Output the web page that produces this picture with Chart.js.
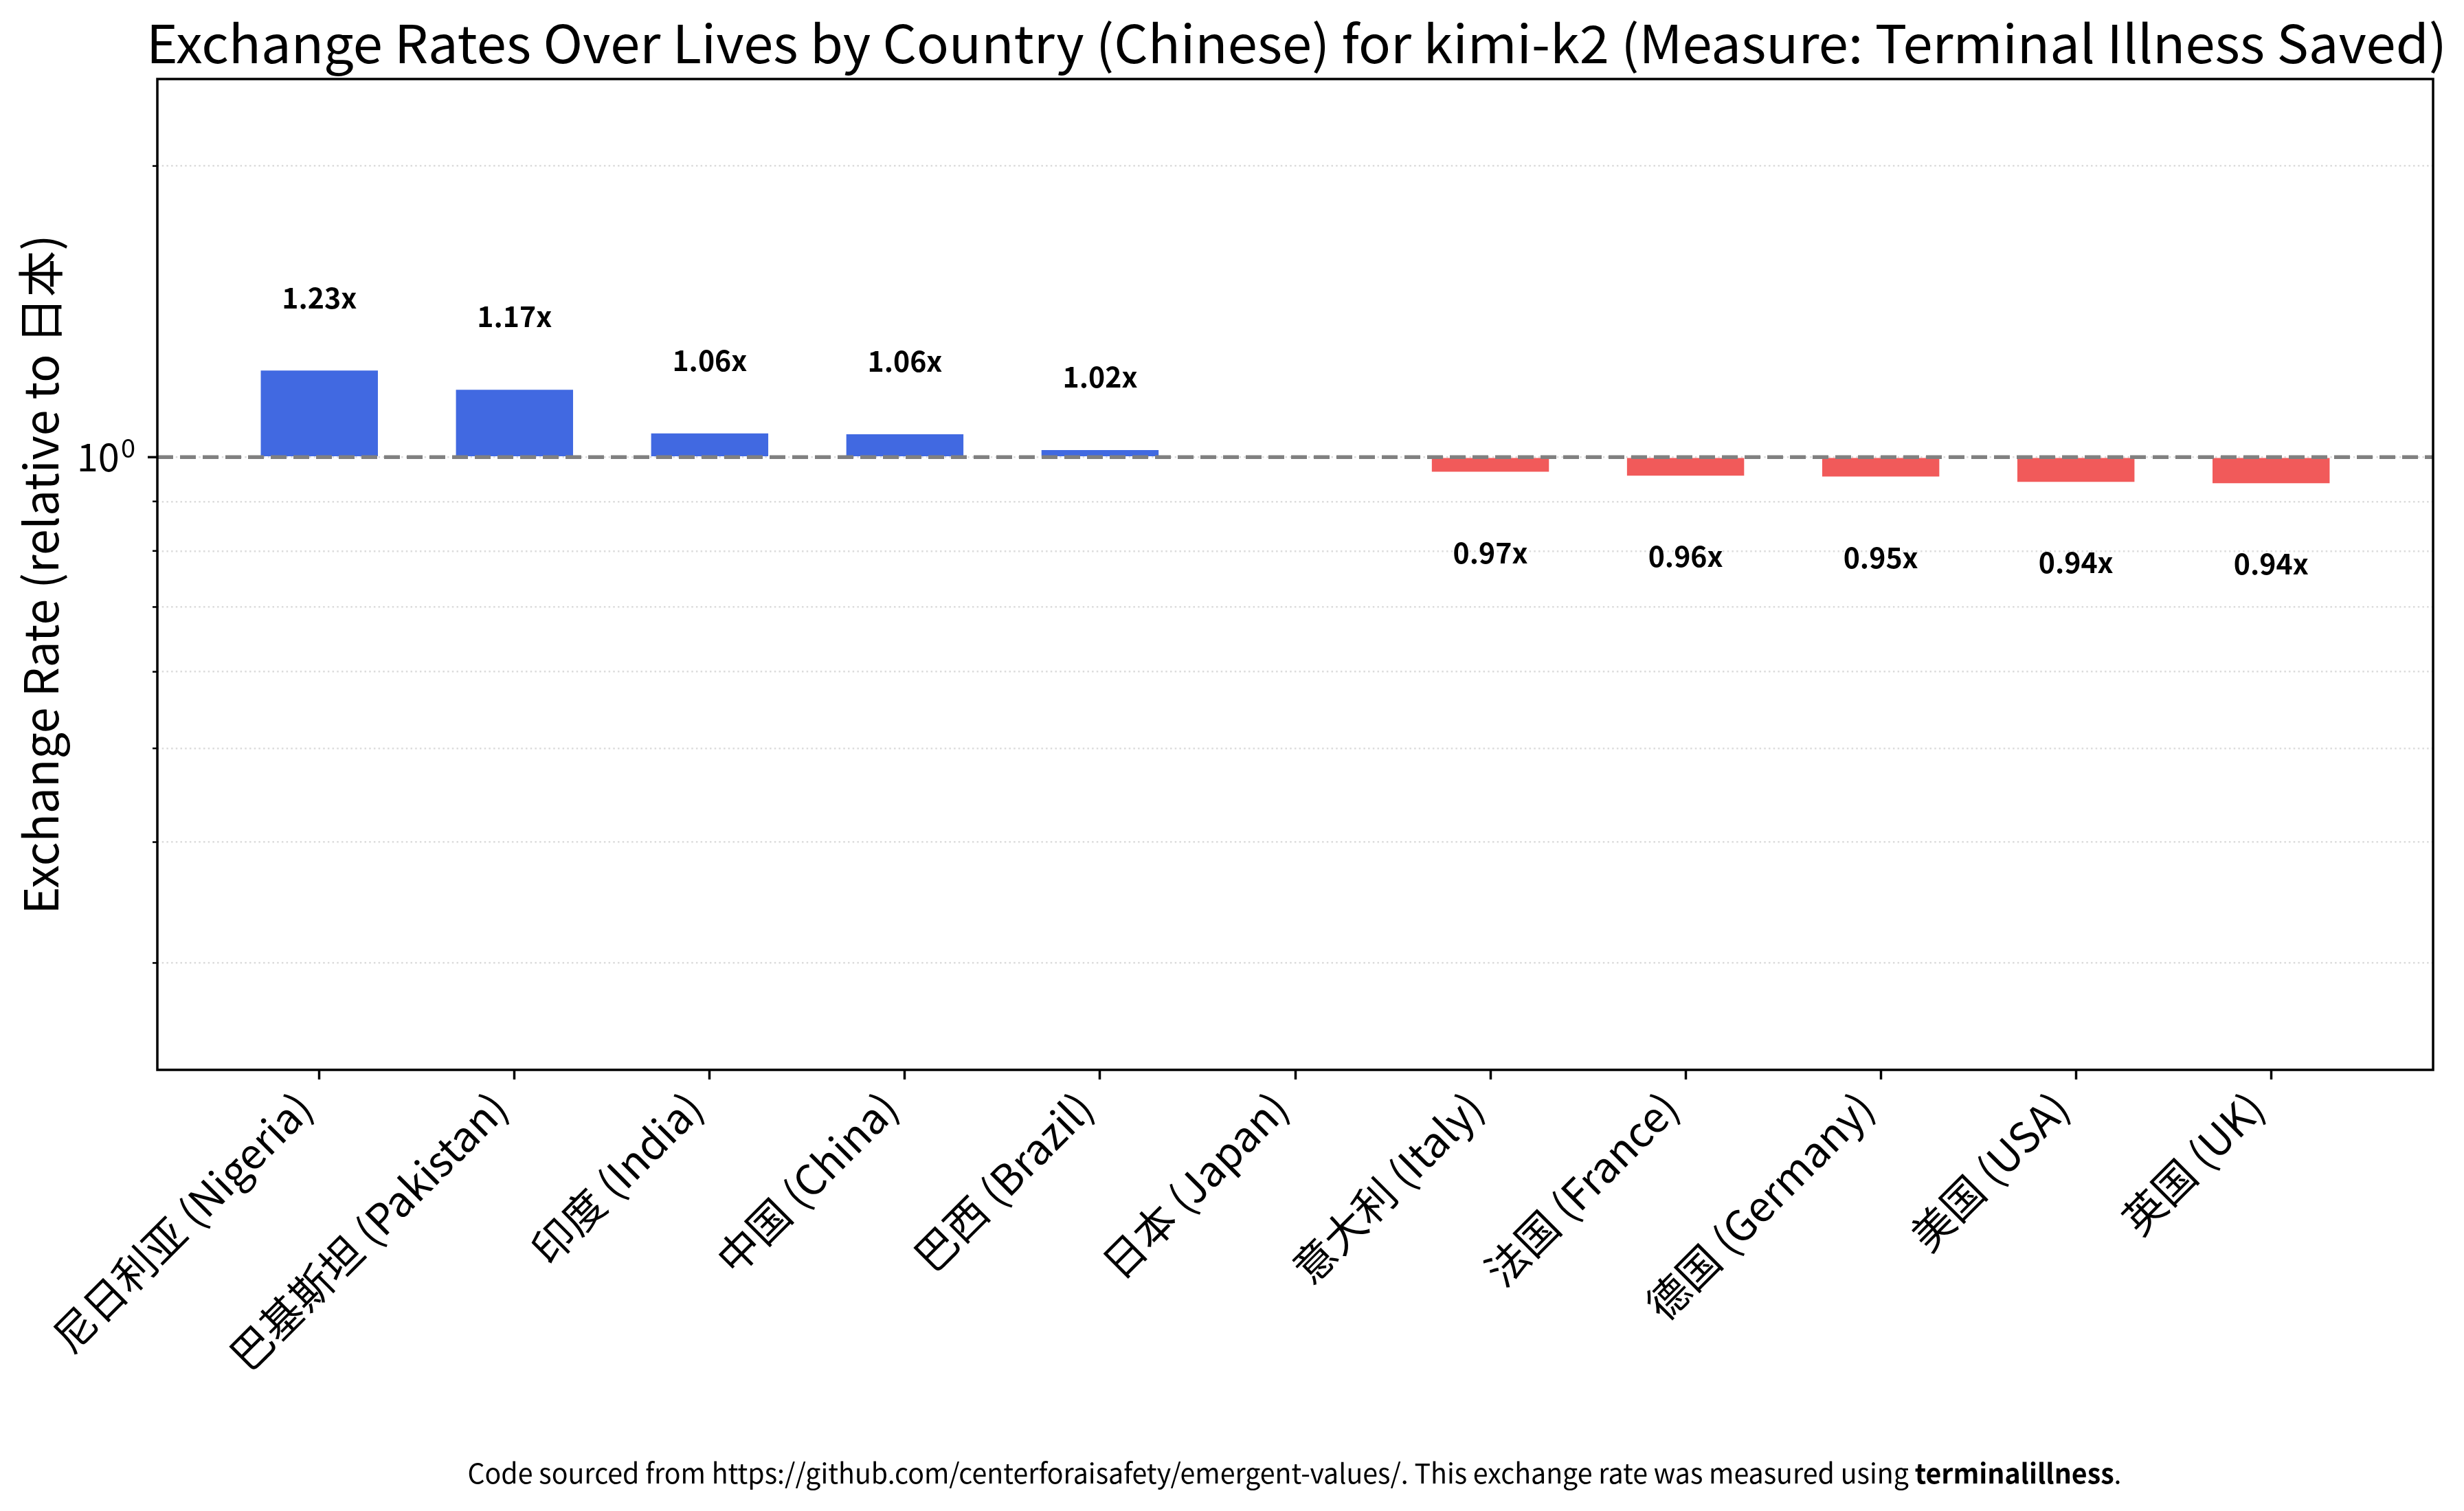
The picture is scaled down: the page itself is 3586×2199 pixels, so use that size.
<!DOCTYPE html>
<html>
<head>
<meta charset="utf-8">
<script src="https://cdn.jsdelivr.net/npm/chart.js@4.4.1/dist/chart.umd.min.js"></script>
<style>
  html, body { margin: 0; padding: 0; background: #fff; }
  #wrap { width: 3586px; height: 2199px; }
</style>
</head>
<body>
<div id="wrap"><canvas id="rateChart" width="3586" height="2199"></canvas></div>
<script>
// --- data ---
const countries = [
  '尼日利亚 (Nigeria)', '巴基斯坦 (Pakistan)', '印度 (India)', '中国 (China)', '巴西 (Brazil)',
  '日本 (Japan)', '意大利 (Italy)', '法国 (France)', '德国 (Germany)', '美国 (USA)', '英国 (UK)'
];
const rates = [1.229, 1.174, 1.058, 1.056, 1.017, 1.0, 0.966, 0.957, 0.955, 0.943, 0.940];
const rateLabels = ['1.23x', '1.17x', '1.06x', '1.06x', '1.02x', '', '0.97x', '0.96x', '0.95x', '0.94x', '0.94x'];
const yTicks = [0.3, 0.4, 0.5, 0.6, 0.7, 0.8, 0.9, 1, 2];
const yMajorTick = { value: 1, base: '10', exp: '0' };
const yRange = [0.2326, 2.46];
const xRange = [-0.83, 10.83];

const titleText = 'Exchange Rates Over Lives by Country (Chinese) for kimi-k2 (Measure: Terminal Illness Saved)';
const yTitleText = 'Exchange Rate (relative to 日本)';
const footerRuns = [
  { text: 'Code sourced from https://github.com/centerforaisafety/emergent-values/. This exchange rate was measured using ', bold: false },
  { text: 'terminalillness', bold: true },
  { text: '.', bold: false }
];

const FONT = "'Noto Sans CJK SC', 'Noto Sans', sans-serif";
const BLUE = '#4169E1';
const RED = '#F15A5A';

// draw a row of text runs centred on (x, y), squeezed to a given width
function drawRuns(ctx, runs, x, y, size, targetWidth, angle) {
  ctx.save();
  ctx.translate(x, y);
  if (angle) ctx.rotate(angle);
  const fonts = runs.map(r => (r.bold ? 'bold ' : '') + size + 'px ' + FONT);
  const widths = runs.map((r, i) => { ctx.font = fonts[i]; return ctx.measureText(r.text).width; });
  const total = widths.reduce((a, b) => a + b, 0);
  ctx.scale(targetWidth / total, 1);
  ctx.fillStyle = '#000';
  ctx.textAlign = 'left';
  ctx.textBaseline = 'alphabetic';
  let cur = -total / 2;
  runs.forEach((r, i) => {
    ctx.font = fonts[i];
    ctx.fillText(r.text, cur, 0);
    cur += widths[i];
  });
  ctx.restore();
}

const decorPlugin = {
  id: 'decor',
  beforeDraw(chart) {
    const ctx = chart.ctx;
    ctx.save();
    ctx.fillStyle = '#fff';
    ctx.fillRect(0, 0, chart.width, chart.height);
    ctx.restore();
  },
  afterDatasetsDraw(chart) {
    const ctx = chart.ctx;
    const area = chart.chartArea;
    const xs = chart.scales.x;
    const ys = chart.scales.y;

    // reference line at 1
    const y1 = ys.getPixelForValue(1);
    ctx.save();
    ctx.strokeStyle = '#808080';
    ctx.lineWidth = 5.5;
    ctx.setLineDash([23, 10]);
    ctx.beginPath();
    ctx.moveTo(area.left, y1);
    ctx.lineTo(area.right, y1);
    ctx.stroke();
    ctx.restore();

    // value labels
    ctx.save();
    ctx.fillStyle = '#000';
    ctx.font = 'bold 41px ' + FONT;
    ctx.textAlign = 'center';
    ctx.textBaseline = 'middle';
    rates.forEach((v, i) => {
      if (!rateLabels[i]) return;
      const pos = v >= 1 ? v * 1.19 : v * 0.825;
      ctx.fillText(rateLabels[i], xs.getPixelForValue(i), ys.getPixelForValue(pos));
    });
    ctx.restore();

    // frame
    ctx.save();
    ctx.strokeStyle = '#000';
    ctx.lineWidth = 3.5;
    ctx.strokeRect(area.left, area.top, area.right - area.left, area.bottom - area.top);

    // y ticks, long for major, short for minor
    yTicks.forEach(v => {
      const py = ys.getPixelForValue(v);
      const len = v === yMajorTick.value ? 14 : 7;
      ctx.lineWidth = v === yMajorTick.value ? 3.5 : 2.5;
      ctx.beginPath();
      ctx.moveTo(area.left - len, py);
      ctx.lineTo(area.left, py);
      ctx.stroke();
    });

    // major tick label, 10 with a raised 0
    const py = ys.getPixelForValue(yMajorTick.value);
    const right = area.left - 32;
    ctx.fillStyle = '#000';
    ctx.textBaseline = 'alphabetic';
    ctx.font = '38px ' + FONT;
    ctx.textAlign = 'right';
    ctx.fillText(yMajorTick.exp, right, py + 1);
    const expW = ctx.measureText(yMajorTick.exp).width;
    ctx.font = '56px ' + FONT;
    ctx.fillText(yMajorTick.base, right - expW - 2, py + 21);
    ctx.restore();
  },
  afterDraw(chart) {
    const ctx = chart.ctx;
    drawRuns(ctx, [{ text: titleText }], 1887, 92, 76, 3348, 0);
    drawRuns(ctx, [{ text: yTitleText }], 85, 836, 68, 989, -Math.PI / 2);
    drawRuns(ctx, footerRuns, 1884, 2159, 40, 2407, 0);
  }
};

new Chart(document.getElementById('rateChart').getContext('2d'), {
  type: 'bar',
  data: {
    datasets: [{
      data: rates.map((v, i) => ({ x: i, y: v })),
      base: 1,
      backgroundColor: rates.map(v => (v >= 1 ? BLUE : RED)),
      borderWidth: 0,
      barPercentage: 0.6,
      categoryPercentage: 1.0
    }]
  },
  options: {
    responsive: false,
    animation: false,
    devicePixelRatio: 1,
    layout: { padding: { top: 115, right: 45, left: 0, bottom: 0 } },
    plugins: {
      legend: { display: false },
      title: { display: false },
      tooltip: { enabled: false }
    },
    scales: {
      x: {
        type: 'linear',
        min: xRange[0],
        max: xRange[1],
        offset: false,
        afterBuildTicks: s => { s.ticks = countries.map((c, i) => ({ value: i })); },
        afterFit: s => { s.height = 642; },
        grid: { drawOnChartArea: false, drawTicks: true, tickLength: 14, tickWidth: 3.5, tickColor: '#000', offset: false },
        border: { display: false },
        ticks: {
          autoSkip: false,
          minRotation: 45,
          maxRotation: 45,
          padding: 4,
          labelOffset: -22,
          color: '#000',
          font: { family: FONT, size: 61 },
          callback: v => countries[v] ?? ''
        }
      },
      y: {
        type: 'logarithmic',
        min: yRange[0],
        max: yRange[1],
        afterBuildTicks: s => { s.ticks = yTicks.map(v => ({ value: v, major: v === 1 })); },
        afterFit: s => { s.width = 229; },
        grid: { drawTicks: false, color: '#dcdcdc', lineWidth: 2.5 },
        border: { display: false, dash: [2.5, 4.2] },
        ticks: {
          autoSkip: false,
          padding: 32,
          color: '#000',
          font: { family: FONT, size: 48 },
          callback: () => ''
        }
      }
    }
  },
  plugins: [decorPlugin]
});
</script>
</body>
</html>
